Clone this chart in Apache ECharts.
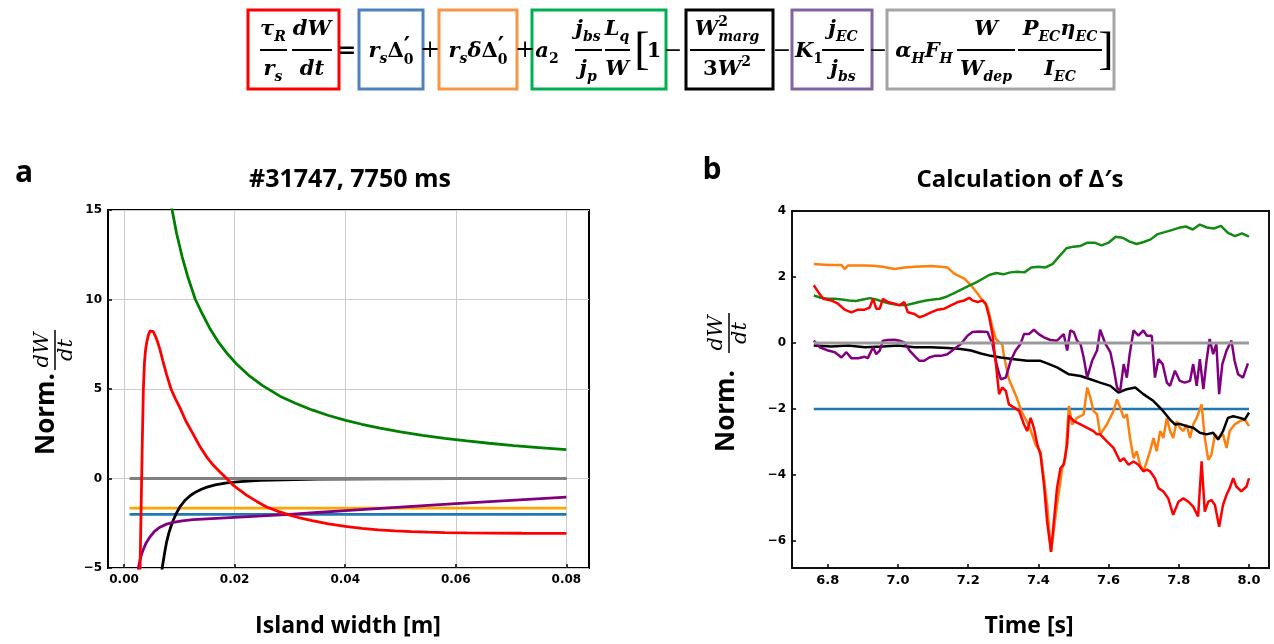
<!DOCTYPE html>
<html>
<head>
<meta charset="utf-8">
<script src="https://cdn.jsdelivr.net/npm/echarts@6/dist/echarts.min.js"></script>
<style>
  html, body { margin: 0; padding: 0; background: #fff; }
  #chart { width: 1274px; height: 644px; }
</style>
</head>
<body>
<div id="chart"></div>
<script>
// ---------- panel a: growth-rate terms versus island width (#31747, 7750 ms) ----------
const widthTicks = [0, 0.02, 0.04, 0.06, 0.08];
const rateTicksA = [-5, 0, 5, 10, 15];

const aBlue   = [[0.001, -2.0], [0.08, -2.0]];
const aOrange = [[0.001, -1.65], [0.08, -1.65]];
const aGray   = [[0.001, 0], [0.08, 0]];
const aGreen  = [[0.0080, 16.3], [0.0087, 15.0], [0.0095, 13.7], [0.0105, 12.4], [0.0115, 11.3], [0.0129, 10.0],
                 [0.0140, 9.3], [0.0155, 8.4], [0.0170, 7.65], [0.0186, 7.0], [0.0205, 6.35], [0.0225, 5.78],
                 [0.0250, 5.2], [0.0282, 4.6], [0.0310, 4.2], [0.0340, 3.83], [0.0370, 3.52], [0.0401, 3.25],
                 [0.0430, 3.03], [0.0463, 2.82], [0.0500, 2.6], [0.0540, 2.41], [0.0580, 2.24], [0.0620, 2.1],
                 [0.0660, 1.97], [0.0705, 1.84], [0.0750, 1.73], [0.0800, 1.61]];
const aBlack  = [[0.0062, -6.9], [0.0066, -5.7], [0.0070, -4.8], [0.0074, -4.05], [0.0077, -3.55], [0.0081, -3.05],
                 [0.0085, -2.67], [0.0089, -2.33], [0.0095, -1.92], [0.0101, -1.59], [0.0110, -1.23], [0.0120, -0.95],
                 [0.0130, -0.75], [0.0140, -0.6], [0.0150, -0.48], [0.0165, -0.36], [0.0186, -0.25], [0.0210, -0.17],
                 [0.0246, -0.11], [0.0290, -0.07], [0.0350, -0.04], [0.0450, -0.02], [0.0600, -0.01], [0.0800, 0]];
const aPurple = [[0.0024, -6.0], [0.0026, -5.0], [0.0029, -4.55], [0.0032, -4.2], [0.0035, -3.95], [0.0040, -3.6],
                 [0.0047, -3.26], [0.0055, -2.95], [0.0065, -2.72], [0.0077, -2.55], [0.0089, -2.45], [0.0105, -2.37],
                 [0.0125, -2.3], [0.0150, -2.25], [0.0200, -2.17], [0.0250, -2.09], [0.0300, -2.0], [0.0350, -1.9],
                 [0.0400, -1.8], [0.0500, -1.6], [0.0600, -1.4], [0.0700, -1.22], [0.0800, -1.04]];
const aRed    = [[0.0027, -7.0], [0.0029, -5.0], [0.0031, -1.5], [0.0033, 2.0], [0.0035, 5.0], [0.0037, 6.5],
                 [0.0039, 7.2], [0.0041, 7.6], [0.0044, 8.0], [0.0047, 8.25], [0.0050, 8.33], [0.0053, 8.2],
                 [0.0056, 8.0], [0.0060, 7.7], [0.0065, 7.2], [0.0070, 6.6], [0.0077, 5.8], [0.0085, 5.0],
                 [0.0093, 4.45], [0.0101, 3.96], [0.0112, 3.2], [0.0125, 2.48], [0.0137, 1.8], [0.0150, 1.18],
                 [0.0162, 0.72], [0.0174, 0.35], [0.0186, -0.02], [0.0198, -0.39], [0.0210, -0.67], [0.0222, -0.94],
                 [0.0240, -1.28], [0.0258, -1.59], [0.0280, -1.85], [0.0300, -2.05], [0.0320, -2.22], [0.0340, -2.35],
                 [0.0370, -2.53], [0.0400, -2.68], [0.0430, -2.79], [0.0460, -2.87], [0.0490, -2.93], [0.0520, -2.97],
                 [0.0550, -3.0], [0.0580, -3.02], [0.0620, -3.04], [0.0660, -3.05], [0.0720, -3.06], [0.0800, -3.07]];

// ---------- panel b: growth-rate terms versus time ----------
const timeTicks = [6.8, 7.0, 7.2, 7.4, 7.6, 7.8, 8.0];
const rateTicksB = [-6, -4, -2, 0, 2, 4];

const bBlue = [[6.76, -2], [8.0, -2]];
const bGray = [[6.76, 0], [8.0, 0]];
const bGreen = [[6.76,1.44],[6.78,1.37],[6.80,1.34],[6.82,1.34],[6.84,1.32],[6.86,1.29],[6.88,1.27],[6.90,1.32],
  [6.92,1.36],[6.94,1.31],[6.96,1.24],[6.98,1.19],[7.00,1.16],[7.02,1.14],[7.04,1.19],[7.06,1.24],[7.08,1.29],
  [7.10,1.32],[7.12,1.34],[7.14,1.41],[7.16,1.51],[7.18,1.62],[7.20,1.72],[7.22,1.82],[7.24,1.94],[7.26,2.06],
  [7.28,2.12],[7.30,2.08],[7.32,2.14],[7.34,2.16],[7.36,2.14],[7.38,2.29],[7.40,2.31],[7.42,2.29],[7.44,2.39],
  [7.46,2.63],[7.48,2.87],[7.50,2.92],[7.52,2.94],[7.54,3.04],[7.56,3.04],[7.58,2.96],[7.60,3.04],[7.62,3.22],
  [7.64,3.19],[7.66,3.07],[7.68,3.00],[7.70,3.06],[7.72,3.14],[7.74,3.30],[7.76,3.36],[7.78,3.42],[7.80,3.49],
  [7.82,3.53],[7.84,3.44],[7.86,3.59],[7.88,3.50],[7.90,3.47],[7.92,3.55],[7.94,3.34],[7.96,3.24],[7.98,3.32],[8.00,3.22]];
const bOrange = [[6.760,2.39],[6.801,2.36],[6.839,2.36],[6.848,2.24],[6.858,2.35],[6.905,2.35],[6.929,2.34],
  [6.957,2.31],[6.990,2.24],[7.018,2.29],[7.047,2.31],[7.094,2.33],[7.122,2.31],[7.141,2.29],[7.160,2.10],
  [7.189,1.95],[7.208,1.75],[7.227,1.49],[7.241,1.29],[7.255,1.09],[7.269,0.48],[7.279,0.12],[7.288,0.03],
  [7.297,-0.05],[7.302,-0.40],[7.316,-1.10],[7.336,-1.60],[7.353,-2.10],[7.373,-2.50],[7.393,-3.10],[7.406,-3.30],
  [7.425,-4.91],[7.436,-6.33],[7.453,-4.91],[7.468,-3.79],[7.477,-3.49],[7.487,-1.91],[7.496,-2.47],[7.510,-2.27],
  [7.520,-2.22],[7.529,-2.16],[7.539,-1.35],[7.548,-1.66],[7.557,-2.06],[7.567,-2.16],[7.576,-2.77],[7.595,-2.47],
  [7.614,-2.06],[7.624,-1.71],[7.633,-1.96],[7.643,-2.27],[7.652,-2.16],[7.661,-2.88],[7.671,-3.49],[7.680,-3.28],
  [7.690,-3.69],[7.699,-3.89],[7.709,-3.59],[7.718,-3.28],[7.728,-2.88],[7.737,-3.28],[7.747,-2.67],[7.756,-2.88],
  [7.766,-2.27],[7.775,-2.67],[7.784,-2.88],[7.794,-2.37],[7.803,-2.57],[7.813,-2.67],[7.822,-2.47],[7.832,-2.88],
  [7.841,-2.47],[7.851,-2.27],[7.865,-1.86],[7.874,-2.88],[7.884,-3.54],[7.893,-3.39],[7.903,-2.77],[7.912,-2.88],
  [7.926,-2.77],[7.936,-3.18],[7.945,-2.67],[7.959,-2.47],[7.974,-2.37],[7.988,-2.32],[8.000,-2.52]];
const bBlack = [[6.760,-0.08],[6.810,-0.11],[6.858,-0.08],[6.905,-0.13],[6.957,-0.11],[7.000,-0.08],[7.047,-0.13],
  [7.094,-0.13],[7.141,-0.15],[7.179,-0.18],[7.208,-0.23],[7.236,-0.32],[7.264,-0.39],[7.293,-0.44],[7.331,-0.49],
  [7.368,-0.54],[7.406,-0.54],[7.425,-0.62],[7.453,-0.74],[7.487,-0.95],[7.520,-1.00],[7.548,-1.10],[7.576,-1.20],
  [7.605,-1.30],[7.628,-1.50],[7.652,-1.40],[7.676,-1.35],[7.699,-1.55],[7.728,-1.76],[7.751,-2.01],[7.775,-2.32],
  [7.789,-2.47],[7.803,-2.45],[7.822,-2.52],[7.841,-2.57],[7.860,-2.72],[7.879,-2.77],[7.898,-2.72],[7.912,-2.93],
  [7.926,-2.67],[7.940,-2.27],[7.955,-2.22],[7.974,-2.27],[7.988,-2.32],[8.000,-2.11]];
const bPurple = [[6.760,0.07],[6.777,-0.13],[6.801,-0.23],[6.820,-0.28],[6.839,-0.44],[6.853,-0.28],[6.867,-0.46],
  [6.886,-0.46],[6.905,-0.42],[6.914,-0.46],[6.929,-0.13],[6.938,-0.34],[6.948,-0.23],[6.957,0.07],[6.971,0.09],
  [6.990,0.10],[7.004,0.07],[7.018,0.02],[7.033,-0.23],[7.047,-0.39],[7.061,-0.54],[7.075,-0.54],[7.089,-0.44],
  [7.104,-0.39],[7.122,-0.39],[7.141,-0.34],[7.160,-0.18],[7.179,-0.03],[7.198,0.22],[7.212,0.33],[7.231,0.35],
  [7.255,0.33],[7.269,-0.03],[7.283,-0.74],[7.293,-1.10],[7.307,-1.05],[7.321,-0.54],[7.335,-0.23],[7.349,-0.03],
  [7.359,0.27],[7.373,0.27],[7.387,0.40],[7.401,0.27],[7.416,0.17],[7.434,0.09],[7.453,0.07],[7.472,0.27],
  [7.482,-0.23],[7.491,0.38],[7.501,0.33],[7.510,0.07],[7.520,-0.03],[7.529,-0.44],[7.539,-1.05],[7.553,-0.54],
  [7.567,-0.23],[7.576,0.40],[7.591,-0.03],[7.605,-0.28],[7.614,-0.74],[7.624,-1.35],[7.633,-1.45],[7.643,-0.64],
  [7.652,-1.05],[7.660,-0.34],[7.671,0.38],[7.685,0.22],[7.699,0.38],[7.709,0.22],[7.723,0.22],[7.732,-1.05],
  [7.742,-0.49],[7.754,-0.64],[7.766,-1.20],[7.775,-1.30],[7.789,-0.84],[7.803,-1.15],[7.817,-1.20],[7.832,-1.15],
  [7.841,-0.64],[7.851,-1.30],[7.860,-0.49],[7.870,-1.40],[7.879,-0.54],[7.888,0.12],[7.898,-0.34],[7.907,-0.03],
  [7.915,-1.55],[7.924,-0.64],[7.936,-0.23],[7.950,0.07],[7.959,-0.54],[7.969,-0.95],[7.983,-1.05],[7.997,-0.62]];
const bRed = [[6.760,1.75],[6.773,1.54],[6.787,1.34],[6.810,1.29],[6.829,1.19],[6.848,1.01],[6.867,0.93],[6.886,1.01],
  [6.905,1.01],[6.919,1.07],[6.929,1.34],[6.938,1.04],[6.948,1.04],[6.957,1.34],[6.971,1.24],[6.990,1.19],[7.004,1.14],
  [7.018,1.24],[7.028,0.93],[7.047,0.88],[7.061,0.78],[7.075,0.83],[7.094,0.93],[7.113,1.01],[7.132,1.04],[7.151,1.14],
  [7.170,1.24],[7.189,1.29],[7.203,1.37],[7.212,1.29],[7.227,1.24],[7.241,1.29],[7.250,1.19],[7.260,0.78],[7.269,0.27],
  [7.279,-0.64],[7.288,-1.55],[7.297,-1.35],[7.307,-1.45],[7.316,-1.86],[7.331,-1.96],[7.345,-2.06],[7.359,-2.47],
  [7.368,-2.67],[7.378,-2.27],[7.387,-2.57],[7.397,-3.08],[7.406,-3.38],[7.416,-4.30],[7.425,-5.42],[7.436,-6.33],
  [7.444,-5.42],[7.453,-4.40],[7.463,-3.79],[7.472,-3.69],[7.482,-3.08],[7.487,-2.20],[7.501,-2.37],[7.520,-2.47],
  [7.539,-2.57],[7.557,-2.67],[7.567,-2.77],[7.576,-2.77],[7.595,-2.98],[7.614,-3.18],[7.633,-3.59],[7.643,-3.49],
  [7.657,-3.69],[7.671,-3.59],[7.685,-3.69],[7.699,-3.89],[7.709,-3.84],[7.718,-3.89],[7.732,-4.10],[7.742,-4.40],
  [7.756,-4.50],[7.770,-4.71],[7.784,-5.21],[7.799,-4.81],[7.813,-4.71],[7.827,-4.81],[7.841,-4.96],[7.855,-5.26],
  [7.865,-3.59],[7.874,-5.11],[7.884,-4.81],[7.893,-4.76],[7.903,-4.91],[7.915,-5.57],[7.926,-4.91],[7.936,-4.60],
  [7.945,-4.40],[7.955,-4.10],[7.964,-4.35],[7.978,-4.50],[7.993,-4.35],[8.000,-4.10]];

// ---------- drawing helpers ----------
const minus = s => String(s).replace('-', '\u2212');
const SANS = '"Open Sans", sans-serif';
const MATH = '"DejaVu Serif", serif';
const TICKFONT = '"DejaVu Sans", sans-serif';

const gfx = [];
const mctx = document.createElement('canvas').getContext('2d');
const B = 21, S = 14;
function mfont(sz, up, reg, fam) { return (up ? '' : 'italic ') + (reg ? '' : 'bold ') + sz + 'px ' + (fam || MATH); }
function tw(t, f) { mctx.font = f; return mctx.measureText(t).width; }
function put(t, x, y, f, opts) {
  const o = opts || {};
  gfx.push({
    type: 'text', x, y, z: 20, rotation: o.rot || 0,
    style: { text: t, font: f, fill: o.fill || '#000',
             textAlign: o.align || 'left', align: o.align || 'left',
             textVerticalAlign: 'middle', verticalAlign: 'middle' }
  });
}
function hline(x1, x2, y, w, c) {
  gfx.push({ type: 'line', z: 20, shape: { x1, y1: y, x2, y2: y }, style: { stroke: c || '#000', lineWidth: w || 2 } });
}
// lay a sequence of math pieces horizontally, centred on cx
function row(items, cx, cy) {
  const parts = items.map(it => {
    if (it.pair) {
      const fs = it.pair.map(q => mfont(q.size || S, q.up, false, q.fam));
      return { w: Math.max(tw(it.pair[0].t, fs[0]), tw(it.pair[1].t, fs[1])), it, fs };
    }
    const f = mfont(it.sub || it.sup ? S : (it.size || B), it.up, it.reg);
    return { w: tw(it.t, f), it, f };
  });
  let x = cx - parts.reduce((a, p) => a + p.w, 0) / 2;
  parts.forEach(p => {
    const it = p.it;
    if (it.pair) {
      put(it.pair[0].t, x, cy + (it.pair[0].dy != null ? it.pair[0].dy : -8), p.fs[0]);
      put(it.pair[1].t, x, cy + (it.pair[1].dy != null ? it.pair[1].dy : 7), p.fs[1]);
    } else put(it.t, x, cy + (it.sub ? 7 : it.sup ? -8 : 0), p.f);
    x += p.w;
  });
}
function frac(cx, num, den, x1, x2) {
  row(num, cx, 30);
  row(den, cx, 70);
  hline(x1, x2, 50, 2);
}
const m = t => ({ t });
const up = t => ({ t, up: true });
const sub = t => ({ t, sub: true });
const subUp = t => ({ t, sub: true, up: true });
const sup = t => ({ t, sup: true, up: true });
const primeZero = { pair: [{ t: '\u2032', up: true, size: 24, dy: -4, fam: '"DejaVu Sans", sans-serif' },
                           { t: '0', up: true, dy: 8 }] };

// ---------- equation header ----------
const boxes = [[248, 339, '#ff0000'], [359, 423, '#4f81bd'], [439, 517, '#f79646'], [532, 666, '#00b050'],
               [686, 773, '#000000'], [792, 872, '#8064a2'], [887, 1114, '#a5a5a5']];
boxes.forEach(([x1, x2, c]) => gfx.push({
  type: 'rect', z: 19, shape: { x: x1, y: 10, width: x2 - x1, height: 79 },
  style: { fill: 'none', stroke: c, lineWidth: 3 }
}));
frac(273, [m('τ'), sub('R')], [m('r'), sub('s')], 260, 287);
frac(312, [m('d'), m('W')], [m('d'), m('t')], 292, 332);
put('=', 347, 51, 'bold 22px ' + MATH, { align: 'center' });
row([m('r'), sub('s'), up('Δ'), primeZero], 391, 52);
put('+', 430, 51, '24px ' + MATH, { align: 'center' });
row([m('r'), sub('s'), m('δ'), up('Δ'), primeZero], 478, 52);
put('+', 525, 51, '24px ' + MATH, { align: 'center' });
row([m('a'), subUp('2')], 547, 52);
frac(588, [m('j'), sub('bs')], [m('j'), sub('p')], 575, 602);
frac(617, [m('L'), sub('q')], [m('W')], 605, 630);
put('[', 642, 52, '46px "Liberation Serif", serif', { align: 'center' });
put('1', 654, 52, 'bold 21px ' + MATH, { align: 'center' });
put('−', 673, 51, '22px ' + MATH, { align: 'center' });
frac(727, [m('W'), { pair: [{ t: '2', up: true }, { t: 'marg' }] }], [up('3'), m('W'), sup('2')], 690, 765);
put('−', 782, 51, '22px ' + MATH, { align: 'center' });
row([m('K'), subUp('1')], 809, 52);
frac(843, [m('j'), sub('EC')], [m('j'), sub('bs')], 822, 864);
put('−', 878, 51, '22px ' + MATH, { align: 'center' });
row([m('α'), sub('H'), m('F'), sub('H')], 924, 52);
frac(986, [m('W')], [m('W'), sub('dep')], 957, 1015);
frac(1060, [m('P'), sub('EC'), m('η'), sub('EC')], [m('I'), sub('EC')], 1018, 1102);
put(']', 1106, 52, '46px "Liberation Serif", serif', { align: 'center' });

// ---------- panel labels, titles, axis names ----------
put('a', 24, 173, 'bold 30px ' + SANS, { align: 'center' });
put('b', 712, 170, 'bold 30px ' + SANS, { align: 'center' });
put('#31747, 7750 ms', 350, 180, 'bold 25px ' + SANS, { align: 'center' });
put('Calculation of Δ\u2032s', 1020, 180, 'bold 24px ' + SANS, { align: 'center' });
put('Island width [m]', 348, 626, 'bold 23px ' + SANS, { align: 'center' });
put('Time [s]', 1029, 626, 'bold 23px ' + SANS, { align: 'center' });

// rotated "Norm. dW/dt" labels
function yName(xNorm, yNorm, xBar, yMid) {
  const R = Math.PI / 2;
  put('Norm.', xNorm, yNorm, 'bold 26px ' + SANS, { align: 'center', rot: R });
  put('dW', xBar - 12, yMid, 'italic 21px ' + MATH, { align: 'center', rot: R });
  put('dt', xBar + 12, yMid, 'italic 21px ' + MATH, { align: 'center', rot: R });
  gfx.push({ type: 'line', z: 20, shape: { x1: xBar, y1: yMid - 20, x2: xBar, y2: yMid + 20 },
             style: { stroke: '#000', lineWidth: 1.5 } });
}
yName(47, 414, 55, 350);
yName(727, 411, 729, 333);

// ---------- axes ----------
const tickStyle = { inside: true, length: 4, lineStyle: { color: '#000', width: 1.5 } };
function valueAxis(grid, min, max, ticks, fmt, size, extra) {
  return Object.assign({
    type: 'value', gridIndex: grid, min, max,
    axisLine: { show: false, onZero: false },
    axisTick: Object.assign({ customValues: ticks }, tickStyle),
    axisLabel: { customValues: ticks, formatter: fmt, color: '#000', fontWeight: 'bold',
                 fontFamily: TICKFONT, fontSize: size, margin: 6 },
    splitLine: { show: false }
  }, extra || {});
}
const gridLine = { splitLine: { show: true, lineStyle: { color: '#cccccc', width: 1 } } };

function lineSeries(x, y, data, color, width) {
  return {
    type: 'line', xAxisIndex: x, yAxisIndex: y, data, showSymbol: false, symbol: 'none',
    lineStyle: { color, width }, itemStyle: { color }, animation: false, silent: true
  };
}

const option = {
  animation: false,
  backgroundColor: '#ffffff',
  grid: [
    { left: 108, top: 210, width: 481, height: 358, show: true, borderColor: '#000', borderWidth: 2, backgroundColor: 'transparent' },
    { left: 792, top: 211, width: 477, height: 357, show: true, borderColor: '#111', borderWidth: 2, backgroundColor: 'transparent' }
  ],
  xAxis: [
    valueAxis(0, -0.0029, 0.0841, widthTicks, v => minus(v.toFixed(2)), 12, gridLine),
    valueAxis(1, 6.698, 8.057, timeTicks, v => v.toFixed(1), 13)
  ],
  yAxis: [
    valueAxis(0, -5, 15, rateTicksA, v => minus(v), 12, gridLine),
    valueAxis(1, -6.82, 4, rateTicksB, v => minus(v), 12)
  ],
  series: [
    lineSeries(0, 0, aBlue, '#1f77b4', 2.8),
    lineSeries(0, 0, aOrange, '#ffa500', 2.8),
    lineSeries(0, 0, aGreen, '#008000', 2.8),
    lineSeries(0, 0, aBlack, '#000000', 2.8),
    lineSeries(0, 0, aPurple, '#800080', 2.8),
    lineSeries(0, 0, aGray, '#808080', 3),
    lineSeries(0, 0, aRed, '#ff0000', 2.8),

    lineSeries(1, 1, bBlue, '#1f77b4', 2.5),
    lineSeries(1, 1, bOrange, '#ff7f0e', 2.5),
    lineSeries(1, 1, bGreen, '#138a13', 2.5),
    lineSeries(1, 1, bBlack, '#000000', 2.5),
    lineSeries(1, 1, bPurple, '#800080', 2.5),
    lineSeries(1, 1, bGray, '#9a9a9a', 3),
    lineSeries(1, 1, bRed, '#ff0000', 2.5)
  ],
  graphic: { elements: gfx }
};

const chart = echarts.init(document.getElementById('chart'), null, { renderer: 'canvas', width: 1274, height: 644 });
chart.setOption(option);
</script>
</body>
</html>
